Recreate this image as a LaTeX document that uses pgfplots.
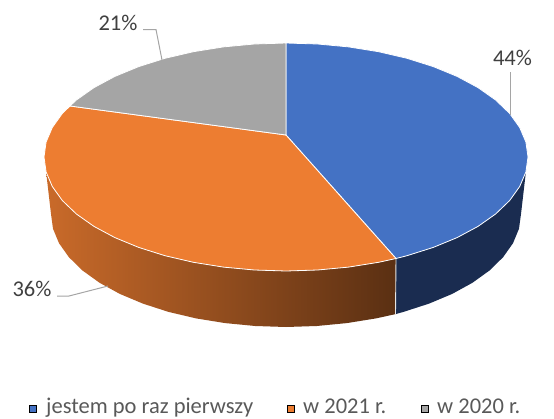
\documentclass[border=0pt]{standalone}
\usepackage{fontspec}
\setmainfont{Carlito}
\usepackage{pgfplots}
\pgfplotsset{compat=1.18}
\definecolor{cblue}{HTML}{4472C4}
\definecolor{corange}{HTML}{ED7D31}
\definecolor{cgray}{HTML}{A5A5A5}
\definecolor{cnavy}{HTML}{1A2C50}
\tikzset{
  lbl/.style={font=\fontsize{22.5}{24}\selectfont, text=black!75, anchor=base, inner sep=0pt},
  leg/.style={font=\fontsize{22.5}{24}\selectfont, text=black!65, anchor=base west, inner sep=0pt},
}
\begin{document}
\begin{tikzpicture}[x=1pt,y=1pt]
\path[use as bounding box] (0,0) rectangle (554pt,418pt);
\begin{axis}[
  at={(0,0)}, anchor=south west,
  scale only axis, width=554pt, height=418pt,
  xmin=0, xmax=554, ymin=0, ymax=418, y dir=reverse,
  hide axis, clip=false,
]
% side of the orange slice
\addplot[draw=none, left color=corange!85!black, middle color=corange!62!black!85, right color=corange!38!black] coordinates {
 (46.1,171.9) (52.3,186.5) (62.4,200.6) (76.4,214) (94,226.4) (114.9,237.6) (138.7,247.4) (165,255.7)
 (193.4,262.3) (223.4,267.1) (254.4,270) (286,271) (317.6,270) (348.6,267.1) (378.6,262.3) (396,258.5)
 (396,314) (376,318.4) (346.8,323.1) (316.7,326) (286,327) (255.3,326) (225.2,323.1) (196.1,318.4)
 (168.5,311.9) (142.9,303.6) (119.8,293.9) (99.6,282.8) (82.5,270.5) (68.9,257.2) (59,243.2) (53,228.7) (51,214)
} --cycle;
% side of the blue slice
\addplot[draw=none, fill=cnavy] coordinates {
 (396,258.5) (407,255.7) (433.3,247.4) (457.1,237.6) (478,226.4) (495.6,214) (509.6,200.6) (519.7,186.5) (525.9,171.9)
 (521,214) (519,228.7) (513,243.2) (503.1,257.2) (489.5,270.5) (472.4,282.8) (452.2,293.9) (429.1,303.6) (403.5,311.9) (396,314)
} --cycle;
\addplot[draw=white!90!black, line width=0.9pt] coordinates {(396,258.5) (395.5,314)};
% top: 44%
\addplot[fill=cblue, draw=white, line width=0.8pt] coordinates {
 (286,135) (286,43) (317.6,44) (348.6,46.9) (378.6,51.7) (407,58.3) (433.3,66.6) (457.1,76.4) (478,87.6)
 (495.6,100) (509.6,113.4) (519.7,127.5) (525.9,142.1) (528,157) (525.9,171.9) (519.7,186.5) (509.6,200.6)
 (495.6,214) (478,226.4) (457.1,237.6) (433.3,247.4) (407,255.7) (396,258.5)
} --cycle;
% top: 36%
\addplot[fill=corange, draw=white, line width=0.8pt] coordinates {
 (286,135) (396,258.5) (378.6,262.3) (348.6,267.1) (317.6,270) (286,271) (254.4,270) (223.4,267.1) (193.4,262.3)
 (165,255.7) (138.7,247.4) (114.9,237.6) (94,226.4) (76.4,214) (62.4,200.6) (52.3,186.5) (46.1,171.9) (44,157)
 (46.1,142.1) (52.3,127.5) (62.4,113.4) (70,106)
} --cycle;
% top: 21%
\addplot[fill=cgray, draw=white, line width=0.8pt] coordinates {
 (286,135) (70,106) (76.4,100) (94,87.6) (114.9,76.4) (138.7,66.6) (165,58.3) (193.4,51.7) (223.4,46.9) (254.4,44) (286,43)
} --cycle;
% leader lines
\addplot[cgray, line width=1pt] coordinates {(143,29.5) (156,29.5) (162,60)};
\addplot[cgray, line width=1pt] coordinates {(510.7,72) (510.7,115)};
\addplot[cgray, line width=1pt] coordinates {(57,296) (69,296) (108,286)};
% legend markers
\addplot[only marks, mark=square*, mark size=3.5pt, mark options={fill=cblue, draw=none}] coordinates {(33,408.5)};
\addplot[only marks, mark=square*, mark size=3.5pt, mark options={fill=corange, draw=none}] coordinates {(290.5,408.5)};
\addplot[only marks, mark=square*, mark size=3.5pt, mark options={fill=cgray, draw=none}] coordinates {(424.5,408.5)};
% labels
\node[lbl] at (axis cs:118,30.5) {21\%};
\node[lbl] at (axis cs:512.5,65) {44\%};
\node[lbl] at (axis cs:32,296) {36\%};
\node[leg] at (axis cs:46,413) {jestem po raz pierwszy};
\node[leg] at (axis cs:303,413) {w 2021 r.};
\node[leg] at (axis cs:437,413) {w 2020 r.};
\end{axis}
\end{tikzpicture}
\end{document}
